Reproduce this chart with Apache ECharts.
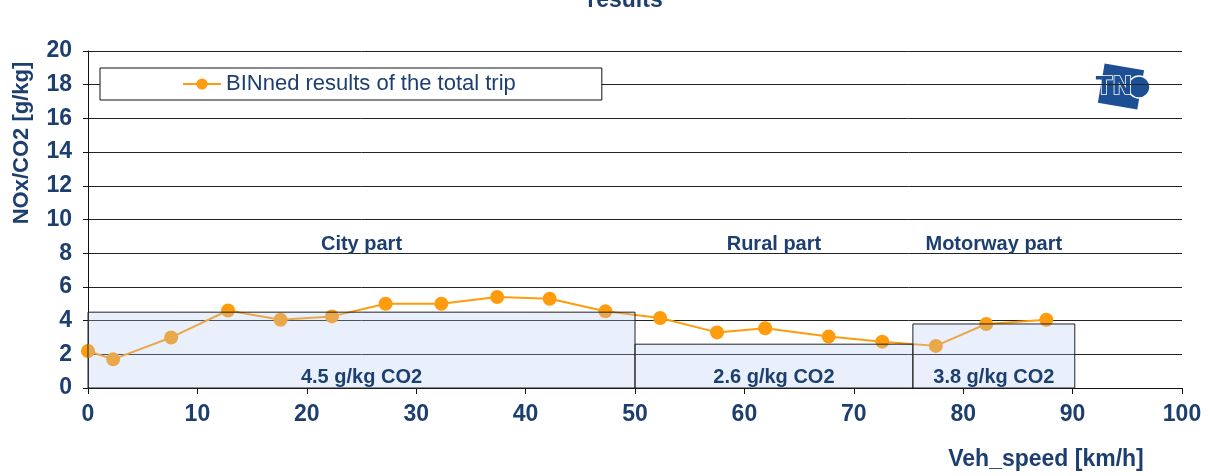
<!DOCTYPE html>
<html>
<head>
<meta charset="utf-8">
<script src="https://cdn.jsdelivr.net/npm/echarts@6/dist/echarts.min.js"></script>
<style>
  html, body { margin: 0; padding: 0; background: #fff; }
  #chart { width: 1210px; height: 476px; }
</style>
</head>
<body>
<div id="chart"></div>
<script>
// binned NOx/CO2 ratio per speed bin
const speedBins = [0, 2.3, 7.6, 12.8, 17.6, 22.3, 27.2, 32.3, 37.4, 42.2, 47.3, 52.3, 57.5, 61.9, 67.7, 72.6, 77.5, 82.1, 87.6];
const noxRatio = [2.2, 1.7, 3.0, 4.6, 4.05, 4.25, 5.0, 5.0, 5.4, 5.3, 4.55, 4.15, 3.3, 3.55, 3.05, 2.75, 2.5, 3.8, 4.05];

// trip parts
const partNames = ['City part', 'Rural part', 'Motorway part'];
const partStart = [0, 50, 75.4];
const partEnd = [50, 75.4, 90.2];
const partCo2 = [4.5, 2.6, 3.8];

const xTicks = [0, 10, 20, 30, 40, 50, 60, 70, 80, 90, 100];
const yTicks = [0, 2, 4, 6, 8, 10, 12, 14, 16, 18, 20];

const navy = '#1d3f70';
const orange = '#ff9c0d';
const font = '"Liberation Sans", Arial, sans-serif';

const chart = echarts.init(document.getElementById('chart'));

const lineData = speedBins.map((x, i) => [x, noxRatio[i]]);
const partData = partNames.map((name, i) => [partStart[i], partEnd[i], partCo2[i], name]);

function renderPart(params, api) {
  const x0 = api.value(0);
  const x1 = api.value(1);
  const h = api.value(2);
  const p0 = api.coord([x0, h]);
  const p1 = api.coord([x1, 0]);
  const mid = (x0 + x1) / 2;
  const namePos = api.coord([mid, 8.5]);
  const valPos = api.coord([mid, 0.65]);
  return {
    type: 'group',
    children: [
      {
        type: 'rect',
        shape: { x: p0[0], y: p0[1], width: p1[0] - p0[0], height: p1[1] - p0[1] },
        style: { fill: 'rgba(175,202,240,0.28)', stroke: '#222', lineWidth: 1 }
      },
      {
        type: 'text',
        x: valPos[0], y: valPos[1],
        style: {
          text: h.toFixed(1) + ' g/kg CO2',
          fill: navy, font: 'bold 20px ' + font,
          align: 'center', verticalAlign: 'middle'
        }
      },
      {
        type: 'text',
        x: namePos[0], y: namePos[1],
        style: {
          text: partNames[params.dataIndex],
          fill: navy, font: 'bold 20px ' + font,
          align: 'center', verticalAlign: 'middle'
        }
      }
    ]
  };
}

const option = {
  animation: false,
  backgroundColor: '#fff',
  grid: { left: 88, right: 28, top: 51, bottom: 88 },
  legend: {
    data: ['BINned results of the total trip'],
    left: 100,
    top: 68,
    padding: [5, 86, 5, 82],
    itemWidth: 38,
    itemHeight: 14,
    itemGap: 6,
    backgroundColor: '#fff',
    borderColor: '#111',
    borderWidth: 1,
    textStyle: { color: navy, fontSize: 22, fontFamily: font }
  },
  xAxis: {
    type: 'value',
    min: xTicks[0],
    max: xTicks[xTicks.length - 1],
    interval: 10,
    axisLine: { show: true, lineStyle: { color: '#111', width: 1 } },
    axisTick: { show: true, length: 6, lineStyle: { color: '#111' } },
    axisLabel: { margin: 15, color: navy, fontSize: 23, fontWeight: 'bold', fontFamily: font },
    splitLine: { show: false }
  },
  yAxis: {
    type: 'value',
    min: yTicks[0],
    max: yTicks[yTicks.length - 1],
    interval: 2,
    axisLine: { show: true, lineStyle: { color: '#111', width: 1 } },
    axisTick: { show: true, length: 5, lineStyle: { color: '#111' } },
    axisLabel: { margin: 16, color: navy, fontSize: 23, fontWeight: 'bold', fontFamily: font },
    splitLine: { show: true, lineStyle: { color: '#222', width: 1 } }
  },
  graphic: [
    {
      type: 'text', x: 625, y: 12,
      style: {
        text: 'results', fill: navy, font: 'bold 23px ' + font,
        align: 'center', verticalAlign: 'bottom'
      }
    },
    {
      type: 'text', x: 22, y: 143, rotation: Math.PI / 2,
      style: {
        text: 'NOx/CO2 [g/kg]', fill: navy, font: 'bold 22px ' + font,
        align: 'center', verticalAlign: 'middle'
      }
    },
    {
      type: 'text', x: 1046, y: 460,
      style: {
        text: 'Veh_speed [km/h]', fill: navy, font: 'bold 23px ' + font,
        align: 'center', verticalAlign: 'middle'
      }
    },
    // TNO logo
    {
      type: 'group', x: 1118, y: 86, z: 10,
      children: [
        { type: 'rect', rotation: -0.17, shape: { x: -17, y: -20, width: 40, height: 40 }, style: { fill: '#1c4f93' } },
        { type: 'circle', shape: { cx: 21, cy: 1, r: 11 }, style: { fill: '#1c4f93', stroke: '#fff', lineWidth: 1.5 } },
        {
          type: 'text', x: -4, y: 2,
          style: {
            text: 'TN', fill: '#1c4f93', stroke: '#fff', lineWidth: 1.5,
            font: 'bold 24px "DejaVu Sans", sans-serif', align: 'center', verticalAlign: 'middle'
          }
        }
      ]
    }
  ],
  series: [
    {
      name: 'BINned results of the total trip',
      type: 'line',
      data: lineData,
      z: 2,
      symbol: 'circle',
      symbolSize: 14,
      lineStyle: { color: orange, width: 2 },
      itemStyle: { color: orange },
      emphasis: { disabled: true }
    },
    {
      name: 'parts',
      type: 'custom',
      z: 3,
      data: partData,
      renderItem: renderPart,
      encode: { x: [0, 1], y: 2 },
      silent: true
    }
  ]
};

chart.setOption(option);
</script>
</body>
</html>
